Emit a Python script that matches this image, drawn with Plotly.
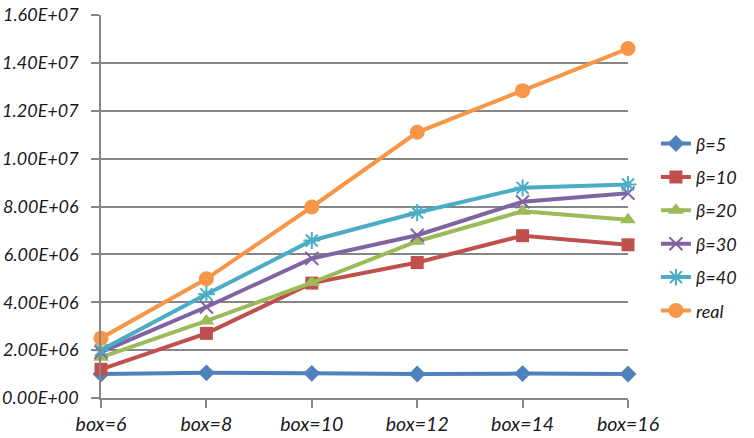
import plotly.graph_objects as go

# Box sizes on the x axis
categories = ["box=6", "box=8", "box=10", "box=12", "box=14", "box=16"]

# Series values
beta5 = [1.00e6, 1.05e6, 1.03e6, 1.00e6, 1.02e6, 1.00e6]
beta10 = [1.20e6, 2.70e6, 4.80e6, 5.66e6, 6.78e6, 6.40e6]
beta20 = [1.70e6, 3.22e6, 4.82e6, 6.55e6, 7.80e6, 7.45e6]
beta30 = [1.92e6, 3.80e6, 5.83e6, 6.80e6, 8.20e6, 8.55e6]
beta40 = [2.00e6, 4.33e6, 6.58e6, 7.75e6, 8.78e6, 8.92e6]
real = [2.50e6, 4.98e6, 7.98e6, 11.10e6, 12.84e6, 14.60e6]

# Y tick values
y_ticks = [0, 2e6, 4e6, 6e6, 8e6, 1e7, 1.2e7, 1.4e7, 1.6e7]
y_ticktext = [f"<i>{v:.2E}</i>" for v in y_ticks]
x_ticktext = [f"<i>{c}</i>" for c in categories]

series = [
    ("β=5", beta5, "#4F81BD", "diamond", 13, 0),
    ("β=10", beta10, "#C0504D", "square", 13, 0),
    ("β=20", beta20, "#9BBB59", "triangle-up", 14, 0),
    ("β=30", beta30, "#8064A2", "x-thin-open", 13, 2),
    ("β=40", beta40, "#4BACC6", "asterisk-open", 14, 2),
    ("real", real, "#F79646", "circle", 15, 0),
]

fig = go.Figure()
for name, vals, color, symbol, size, mlw in series:
    fig.add_trace(go.Scatter(
        x=categories, y=vals, name=f"<i>{name}</i>", mode="lines+markers",
        legendgroup=name,
        line=dict(color=color, width=4),
        marker=dict(symbol=symbol, size=size, color=color,
                    line=dict(color=color, width=mlw)),
        cliponaxis=False,
    ))

font_family = "Lato, Carlito, Calibri, sans-serif"

fig.update_layout(
    width=754, height=438,
    margin=dict(l=101, r=126, t=15, b=40),
    paper_bgcolor="white", plot_bgcolor="white",
    font=dict(family=font_family, size=18, color="#1a1a1a"),
    showlegend=True,
    legend=dict(
        x=1.053, y=0.712, xanchor="left", yanchor="top",
        font=dict(family=font_family, size=18),
        tracegroupgap=7,
        bgcolor="rgba(0,0,0,0)",
    ),
    xaxis=dict(
        type="category", range=[0, 5], automargin=False,
        tickvals=categories, ticktext=x_ticktext,
        showgrid=False, showline=True, linecolor="#868686", linewidth=1.5,
        ticks="outside", ticklen=8, tickcolor="#868686", tickwidth=1.5,
        tickfont=dict(family=font_family, size=19.5),
        zeroline=False,
    ),
    yaxis=dict(
        range=[0, 1.6e7], tickvals=y_ticks, ticktext=y_ticktext,
        automargin=False,
        showgrid=True, gridcolor="#868686", gridwidth=1.5,
        showline=True, linecolor="#868686", linewidth=1.5,
        ticks="outside", ticklen=8, tickcolor="#868686", tickwidth=1.5,
        tickfont=dict(family=font_family, size=18),
        ticklabelstandoff=9,
        zeroline=False,
    ),
)

fig.write_html("out.html")
